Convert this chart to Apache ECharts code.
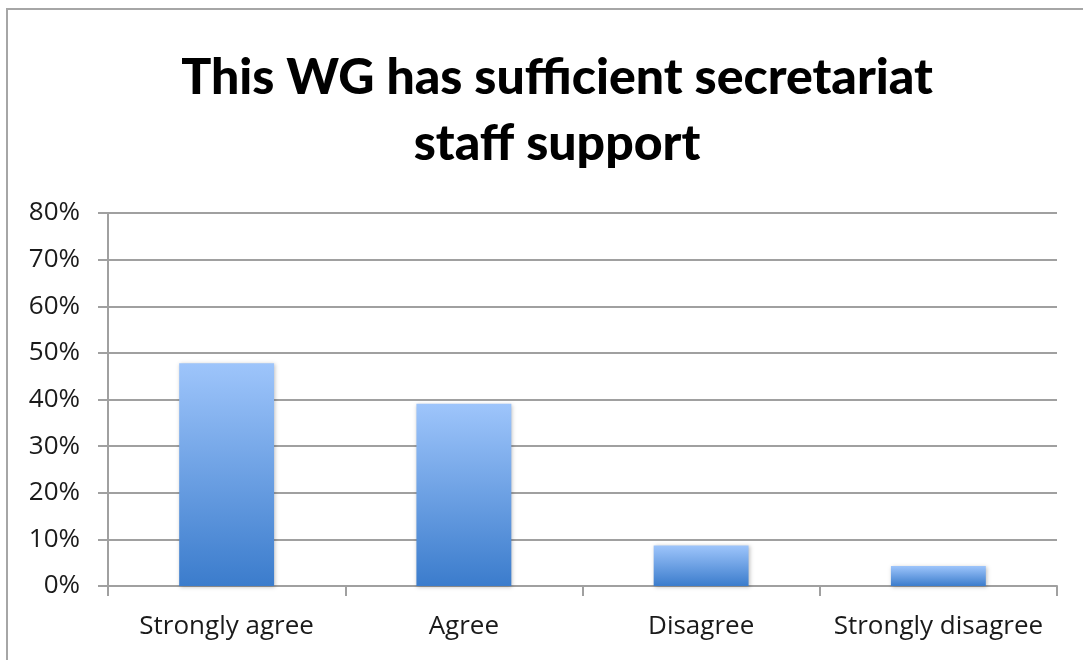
<!DOCTYPE html>
<html>
<head>
<meta charset="utf-8">
<script src="https://cdn.jsdelivr.net/npm/echarts@6/dist/echarts.min.js"></script>
<style>
html,body{margin:0;padding:0;background:#fff;}
#frame{position:absolute;left:6px;top:8px;width:1100px;height:700px;border-left:2px solid #a6a6a6;border-top:2px solid #a6a6a6;}
#chart{position:absolute;left:0;top:0;width:1083px;height:660px;}
</style>
</head>
<body>
<div id="frame"></div>
<div id="chart"></div>
<script>
const titleText = 'This WG has sufficient secretariat\nstaff support';
const categories = ['Strongly agree', 'Agree', 'Disagree', 'Strongly disagree'];
const values = [0.478, 0.391, 0.087, 0.043];
const yMax = 0.8;
const yInterval = 0.1;

const chart = echarts.init(document.getElementById('chart'));
chart.setOption({
  animation: false,
  backgroundColor: 'transparent',
  title: {
    text: titleText,
    left: 552, top: 40, textAlign: 'center',
    textStyle: { fontFamily: 'Lato', fontWeight: 900, fontSize: 50, color: '#000', lineHeight: 66 }
  },
  grid: { left: 108, right: 26, top: 213, bottom: 74 },
  xAxis: {
    type: 'category', data: categories,
    axisLine: { lineStyle: { color: '#a0a0a0', width: 2 } },
    axisTick: { show: true, length: 10, lineStyle: { color: '#a0a0a0', width: 2 } },
    axisLabel: { interval: 0, fontFamily: 'Open Sans', fontSize: 26, color: '#1a1a1a', margin: 28 }
  },
  yAxis: {
    type: 'value', min: 0, max: yMax, interval: yInterval,
    axisLine: { show: true, lineStyle: { color: '#a0a0a0', width: 2 } },
    axisTick: { show: true, length: 10, lineStyle: { color: '#a0a0a0', width: 2 } },
    splitLine: { lineStyle: { color: '#a0a0a0', width: 2 } },
    axisLabel: { fontFamily: 'Open Sans', fontSize: 26, color: '#1a1a1a', margin: 28,
      formatter: v => Math.round(v * 100) + '%' }
  },
  series: [{
    type: 'bar', data: values, barWidth: '40%',
    itemStyle: {
      color: new echarts.graphic.LinearGradient(0, 0, 0, 1, [
        { offset: 0, color: '#9ec5fb' },
        { offset: 1, color: '#3b7ccc' }
      ]),
      shadowColor: 'rgba(0,0,0,0.25)', shadowBlur: 4, shadowOffsetX: 1, shadowOffsetY: 1
    }
  }]
});
</script>
</body>
</html>
